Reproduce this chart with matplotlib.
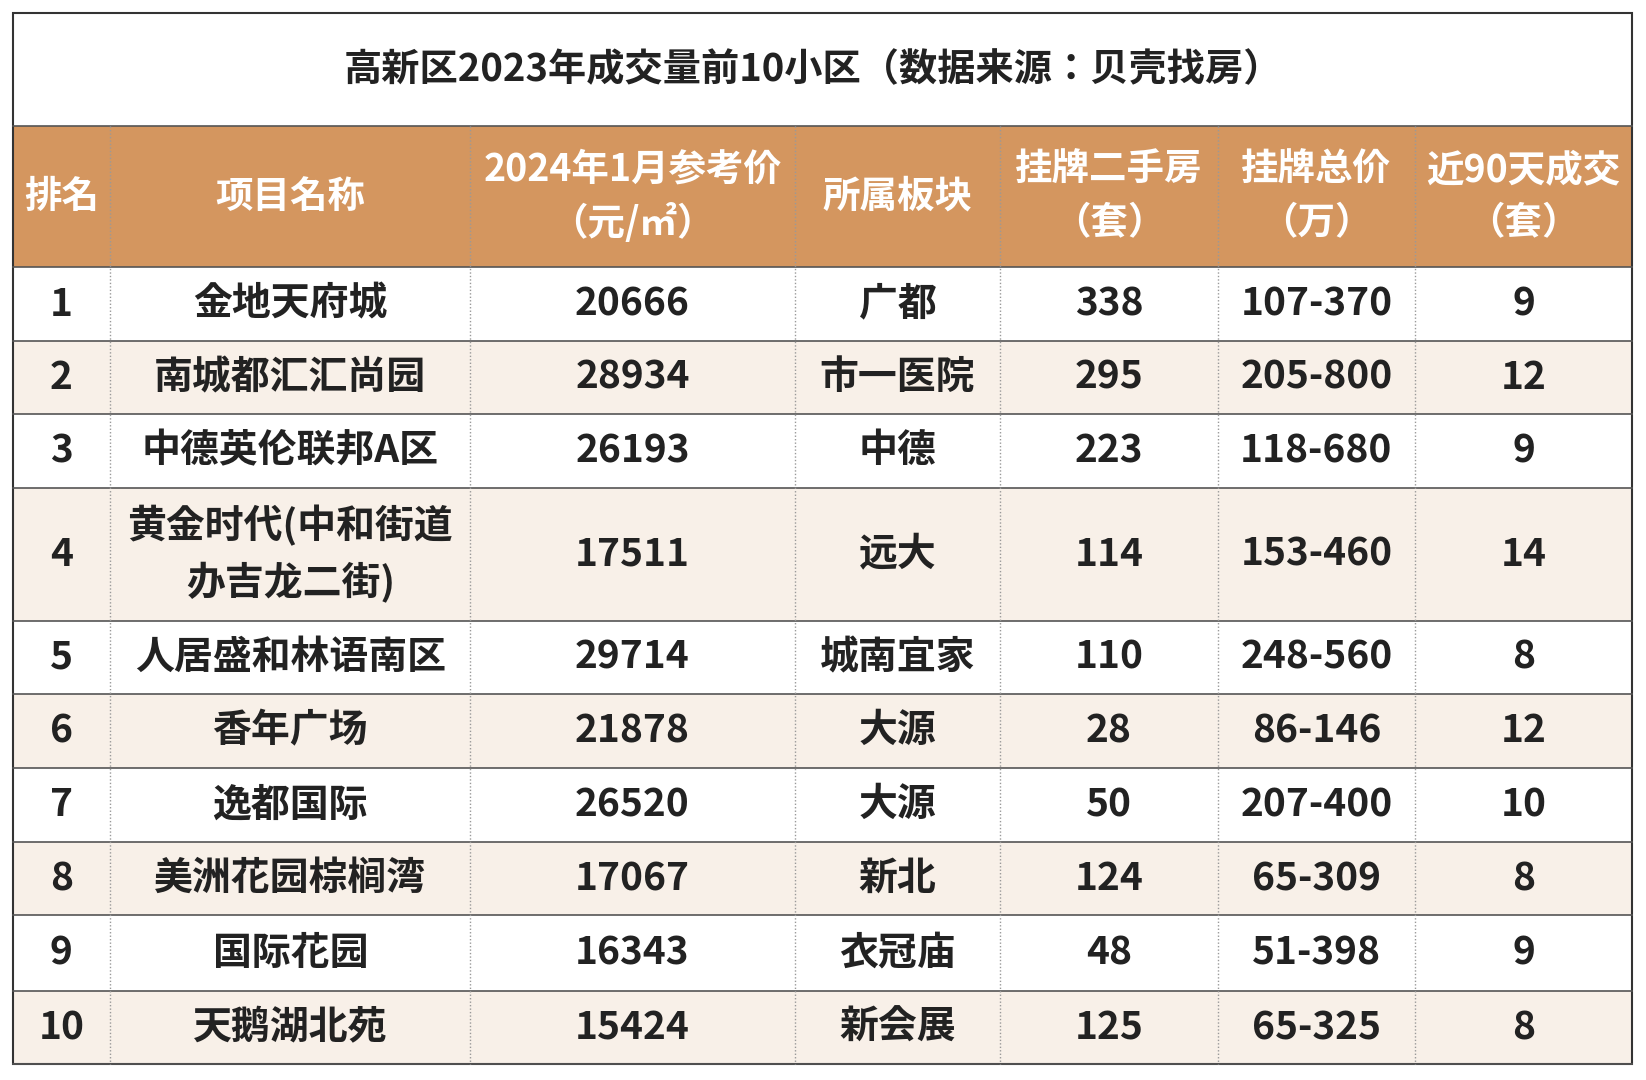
import matplotlib
matplotlib.use("Agg")
import matplotlib.pyplot as plt
from matplotlib.patches import Rectangle
from matplotlib import font_manager as fm

title = "高新区2023年成交量前10小区（数据来源：贝壳找房）"
headers = ["排名", "项目名称", "2024年1月参考价\n（元/㎡）", "所属板块", "挂牌二手房\n（套）", "挂牌总价\n（万）", "近90天成交\n（套）"]
ranks = ["1", "2", "3", "4", "5", "6", "7", "8", "9", "10"]
names = ["金地天府城", "南城都汇汇尚园", "中德英伦联邦A区", "黄金时代(中和街道\n办吉龙二街)", "人居盛和林语南区",
         "香年广场", "逸都国际", "美洲花园棕榈湾", "国际花园", "天鹅湖北苑"]
prices = ["20666", "28934", "26193", "17511", "29714", "21878", "26520", "17067", "16343", "15424"]
areas = ["广都", "市一医院", "中德", "远大", "城南宜家", "大源", "大源", "新北", "衣冠庙", "新会展"]
listings = ["338", "295", "223", "114", "110", "28", "50", "124", "48", "125"]
totals = ["107-370", "205-800", "118-680", "153-460", "248-560", "86-146", "207-400", "65-309", "51-398", "65-325"]
deals = ["9", "12", "9", "14", "8", "12", "10", "8", "9", "8"]

cands = [f for f in fm.fontManager.ttflist
         if "CJK" in f.name and "Sans" in f.name and "Serif" not in f.name]
def score(f):
    s = 0
    if "SC" in f.name: s += 10
    if "Mono" in f.name: s -= 20
    w = f.weight if isinstance(f.weight, int) else {"bold": 700, "normal": 400}.get(f.weight, 400)
    s -= abs(w - 700) / 100
    return s
if cands:
    best = max(cands, key=score)
    fp = fm.FontProperties(fname=best.fname, weight="bold")
else:
    fp = fm.FontProperties(family="DejaVu Sans", weight="bold")

W, H = 1568, 1030
fig = plt.figure(figsize=(16.46, 10.8), dpi=100)
ax = fig.add_axes([0, 0, 1, 1])
ax.set_xlim(0, W); ax.set_ylim(H, 0); ax.axis("off")

def fpz(s):
    p = fp.copy(); p.set_size(s); return p

xs = [12, 105, 448, 757, 953, 1160, 1348, 1555]
ys = [255, 325, 395, 465, 592, 662, 732, 803, 873, 945, 1015]

ax.add_patch(Rectangle((12, 12), 1543, 108, fc="white", ec="none"))
ax.text(W / 2 - 10, 66, title, ha="center", va="center",
        color="#222222", fontproperties=fpz(27.5))
ax.add_patch(Rectangle((12, 120), 1543, 135, fc="#D4965F", ec="none"))
for i, h in enumerate(headers):
    ax.text((xs[i] + xs[i + 1]) / 2, 187, h, ha="center", va="center",
            color="white", fontproperties=fpz(27), linespacing=1.45)

cols = [ranks, names, prices, areas, listings, totals, deals]
for r in range(10):
    y0, y1 = ys[r], ys[r + 1]
    fc = "#F8F0E8" if r % 2 == 1 else "white"
    ax.add_patch(Rectangle((12, y0), 1543, y1 - y0, fc=fc, ec="none"))
    for c in range(7):
        ax.text((xs[c] + xs[c + 1]) / 2, (y0 + y1) / 2, cols[c][r], ha="center", va="center",
                color="#222222", fontproperties=fpz(28), linespacing=1.5)
    ax.plot([12, 1555], [y1, y1], color="#555555", lw=1.2)
ax.plot([12, 1555], [255, 255], color="#555555", lw=1.2)
ax.plot([12, 1555], [120, 120], color="#555555", lw=1.2)
for x in xs[1:-1]:
    ax.plot([x, x], [120, 1015], color="#999999", lw=1, ls=(0, (1, 1.5)))
ax.add_patch(Rectangle((12, 12), 1543, 1003, fc="none", ec="#333333", lw=1.5))
fig.savefig("out.png", dpi=100, facecolor="white")
